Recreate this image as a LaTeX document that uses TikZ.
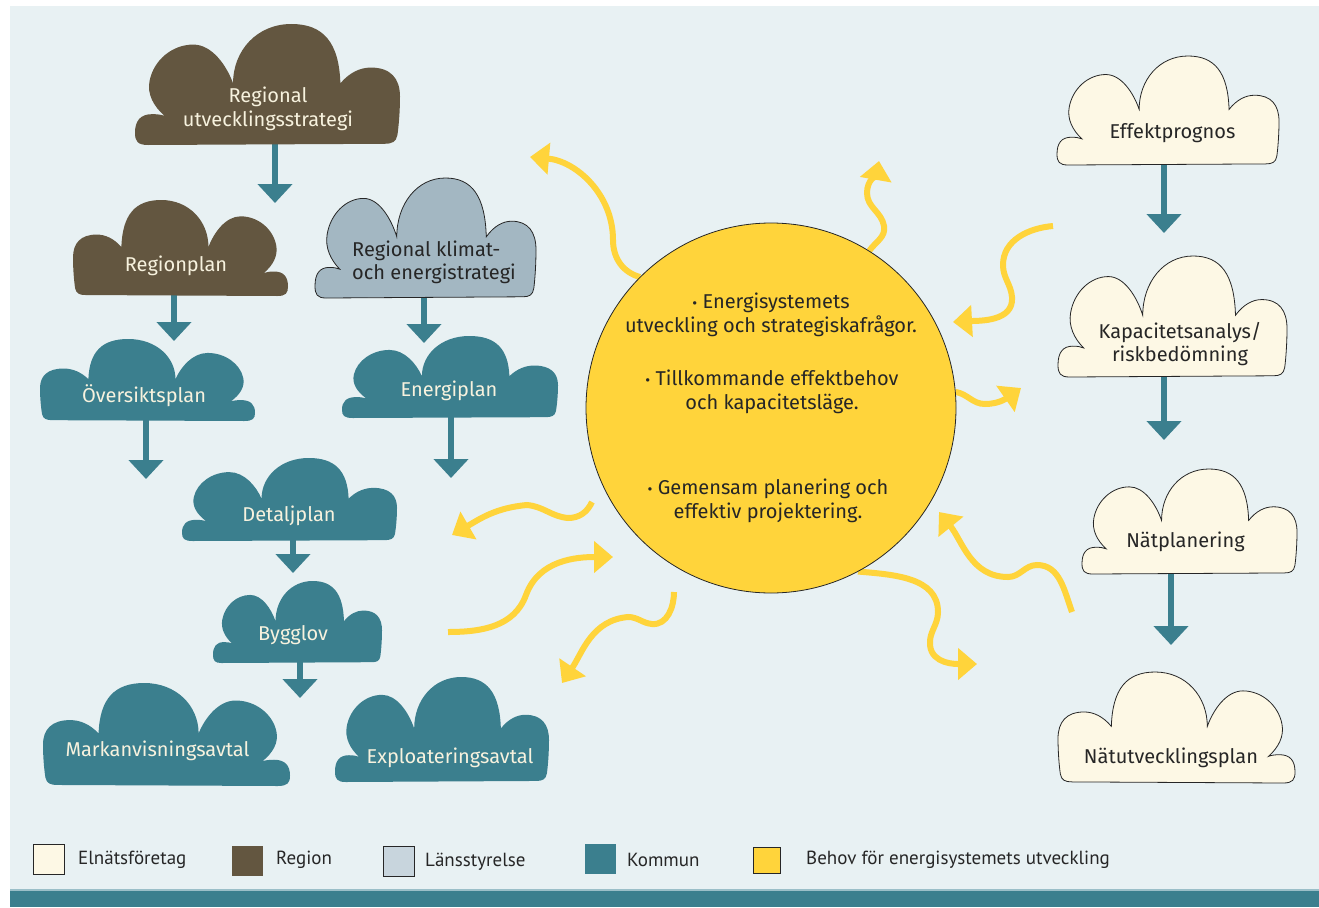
\documentclass[tikz,border=0pt]{standalone}
\usepackage{fontspec}
\setmainfont{Fira Sans}
\newfontfamily\legfont{PT Sans}
\usetikzlibrary{arrows.meta}
\definecolor{bgc}{HTML}{E8F1F3}
\definecolor{brn}{HTML}{635640}
\definecolor{tea}{HTML}{3B7F8E}
\definecolor{sla}{HTML}{A3B7C2}
\definecolor{slal}{HTML}{C8D5DD}
\definecolor{crm}{HTML}{FDF8E5}
\definecolor{yel}{HTML}{FFD43B}
\definecolor{dk}{HTML}{262626}
\definecolor{ltx}{HTML}{F7F2DE}
\definecolor{barl}{HTML}{9BBFC8}
\tikzset{
  cloud/.pic={\path[pic actions]
    (0.05,1) .. controls (0.01,1) and (0,0.97) .. (0,0.9)
    .. controls (0,0.80) and (0.02,0.745) .. (0.065,0.745)
    .. controls (0.085,0.745) and (0.10,0.75) .. (0.112,0.76)
    .. controls (0.07,0.68) and (0.045,0.58) .. (0.055,0.47)
    .. controls (0.07,0.30) and (0.14,0.17) .. (0.22,0.17)
    .. controls (0.29,0.17) and (0.345,0.34) .. (0.37,0.49)
    .. controls (0.37,0.22) and (0.46,0.0) .. (0.59,0.0)
    .. controls (0.71,0.0) and (0.77,0.15) .. (0.775,0.49)
    .. controls (0.81,0.40) and (0.85,0.36) .. (0.89,0.36)
    .. controls (0.965,0.36) and (1.0,0.45) .. (1.0,0.60)
    .. controls (1.0,0.72) and (0.995,0.85) .. (0.99,0.92)
    .. controls (0.985,0.975) and (0.97,0.99) .. (0.94,0.99)
    -- cycle;},
  bx/.style={inner sep=0, outer sep=0},
  ltxt/.style={text=ltx, font=\fontsize{20}{23.5}\selectfont, align=center, inner sep=0},
  dtxt/.style={text=dk, font=\fontsize{20}{23.5}\selectfont, align=center, inner sep=0},
  stxt/.style={text=dk, font=\fontsize{20}{23.5}\selectfont, align=center, inner sep=0},
  legtxt/.style={text=dk, font=\legfont\fontsize{19}{22}\selectfont, anchor=west, inner sep=0},
  lbox/.style={inner sep=0, minimum width=31pt, minimum height=30pt},
  tarrow/.style={draw=tea, line width=6pt, -{Triangle[width=34pt,length=19pt]}},
  yarrow/.style={draw=yel, line width=6pt, -{Triangle[width=31pt,length=19pt]}},
  outl/.style={draw=dk, line width=0.8pt},
}
\newcommand{\bul}{{\fontsize{15}{15}\selectfont\textbullet}\ }
\begin{document}
\begin{tikzpicture}[x=1pt,y=1pt]
\useasboundingbox (0,0) rectangle (1319,-907);
\fill[white] (0,0) rectangle (1319,-907);
\fill[bgc] (10,-6) rectangle (1319,-891);
\fill[barl] (10,-889) rectangle (1319,-891);
\fill[tea] (10,-891) rectangle (1319,-907);

% cloud bounding nodes
\node[bx, minimum width=265pt, minimum height=121pt] (rus) at (267.5,-84.5) {};
\node[bx, minimum width=215pt, minimum height=96pt] (rpl) at (180.5,-248) {};
\node[bx, minimum width=221pt, minimum height=120pt] (rks) at (425.5,-238) {};
\node[bx, minimum width=215pt, minimum height=82pt] (osp) at (147.5,-380) {};
\node[bx, minimum width=216pt, minimum height=82pt] (enp) at (450,-377) {};
\node[bx, minimum width=215pt, minimum height=83pt] (dtp) at (289.5,-499.5) {};
\node[bx, minimum width=169pt, minimum height=82pt] (byg) at (297.5,-622) {};
\node[bx, minimum width=247pt, minimum height=103pt] (mka) at (166.5,-734.5) {};
\node[bx, minimum width=214pt, minimum height=105pt] (exa) at (442,-729.5) {};
\node[bx, minimum width=222pt, minimum height=109pt] (efp) at (1168,-110.5) {};
\node[bx, minimum width=229pt, minimum height=121pt] (kap) at (1172.5,-316.5) {};
\node[bx, minimum width=215pt, minimum height=105pt] (ntp) at (1189.5,-521.5) {};
\node[bx, minimum width=237pt, minimum height=111pt] (nup) at (1176.5,-727.5) {};

% teal arrows
\coordinate (a1) at (275,-203);
\coordinate (a2) at (174,-341);
\coordinate (a3) at (424,-343);
\coordinate (a4) at (146,-479);
\coordinate (a5) at (451,-478);
\coordinate (a6) at (293,-573);
\coordinate (a7) at (300,-698);
\coordinate (a8) at (1164,-233);
\coordinate (a9) at (1164,-440);
\coordinate (a10) at (1171,-645);
\draw[tarrow] ([yshift=4pt]rus.south -| a1) -- (a1);
\draw[tarrow] ([yshift=4pt]rpl.south -| a2) -- (a2);
\draw[tarrow] ([yshift=4pt]rks.south -| a3) -- (a3);
\draw[tarrow] ([yshift=4pt]osp.south -| a4) -- (a4);
\draw[tarrow] ([yshift=4pt]enp.south -| a5) -- (a5);
\draw[tarrow] ([yshift=4pt]dtp.south -| a6) -- (a6);
\draw[tarrow] ([yshift=4pt]byg.south -| a7) -- (a7);
\draw[tarrow] ([yshift=4pt]efp.south -| a8) -- (a8);
\draw[tarrow] ([yshift=4pt]kap.south -| a9) -- (a9);
\draw[tarrow] ([yshift=4pt]ntp.south -| a10) -- (a10);

% clouds
\pic[fill=brn, x=265pt, y=-121pt] at (rus.north west) {cloud};
\pic[fill=brn, x=-215pt, y=-96pt] at (rpl.north east) {cloud};
\pic[fill=sla, outl, x=221pt, y=-120pt] at (rks.north west) {cloud};
\pic[fill=tea, x=-215pt, y=-82pt] at (osp.north east) {cloud};
\pic[fill=tea, x=216pt, y=-82pt] at (enp.north west) {cloud};
\pic[fill=tea, x=215pt, y=-83pt] at (dtp.north west) {cloud};
\pic[fill=tea, x=169pt, y=-82pt] at (byg.north west) {cloud};
\pic[fill=tea, x=-247pt, y=-103pt] at (mka.north east) {cloud};
\pic[fill=tea, x=214pt, y=-105pt] at (exa.north west) {cloud};
\pic[fill=crm, outl, x=222pt, y=-109pt] at (efp.north west) {cloud};
\pic[fill=crm, outl, x=229pt, y=-121pt] at (kap.north west) {cloud};
\pic[fill=crm, outl, x=215pt, y=-105pt] at (ntp.north west) {cloud};
\pic[fill=crm, outl, x=-237pt, y=-111pt] at (nup.north east) {cloud};

% cloud texts
\node[ltxt] (rus-t) at (268,-109) {Regional\\utvecklingsstrategi};
\node[ltxt] (rpl-t) at (176,-266) {Regionplan};
\node[dtxt, align=left] (rks-t) at (434,-262.5) {Regional klimat-\\och energistrategi};
\node[ltxt] (osp-t) at (144,-396) {Översiktsplan};
\node[ltxt] (enp-t) at (449,-391) {Energiplan};
\node[ltxt] (dtp-t) at (289,-516) {Detaljplan};
\node[ltxt] (byg-t) at (293,-635) {Bygglov};
\node[ltxt] (mka-t) at (157.5,-751) {Markanvisningsavtal};
\node[ltxt] (exa-t) at (450,-758) {Exploateringsavtal};
\node[dtxt] (efp-t) at (1172.5,-133) {Effektprognos};
\node[dtxt] (kap-t) at (1180,-344) {Kapacitetsanalys/\\riskbedömning};
\node[dtxt] (ntp-t) at (1185.5,-542) {Nätplanering};
\node[dtxt] (nup-t) at (1171,-758) {Nätutvecklingsplan};

% sun
\node[circle, inner sep=0, minimum size=370pt] (sun) at (771,-408) {};
\coordinate (y1e) at (530,-157);
\coordinate (y2e) at (879,-161);
\coordinate (y3s) at (1053,-226);
\coordinate (y3e) at (953,-322);
\coordinate (y4e) at (1021,-388);
\coordinate (y5s) at (592,-502);
\coordinate (y5e) at (452,-535);
\coordinate (y6s) at (448,-632);
\coordinate (y6e) at (613,-557);
\coordinate (y7s) at (674,-592);
\coordinate (y7e) at (562,-683);
\coordinate (y8e) at (977,-664);
\coordinate (y9s) at (1072,-612);
\coordinate (y9e) at (939,-512);
\draw[yarrow] (sun.135) to[out=165,in=270] (613,-240) to[out=90,in=-5] (y1e);
\draw[yarrow] (sun.58) to[out=55,in=-80] (884,-226) to[out=100,in=-90] (867,-193) to[out=90,in=-100] (y2e);
\draw[yarrow] (sun.5) to[out=-10,in=180] (985,-404) to[out=0,in=215] (y4e);
\draw[yarrow] (sun.-62) to[out=-5,in=90] (938,-612) to[out=-90,in=95] (930,-645) to[out=-85,in=180] (y8e);
\path[fill=yel, outl] (sun.center) circle (185pt);
\draw[yarrow] (y3s) to[out=185,in=90] (1003,-265) to[out=-90,in=95] (1012,-297) to[out=-85,in=3] (y3e);
\draw[yarrow] (y5s) to[out=-115,in=0] (568,-518) to[out=175,in=-5] (527,-505) to[out=185,in=30] (y5e);
\draw[yarrow] (y6s) to[out=0,in=-110] (526,-595) to[out=70,in=180] (y6e);
\draw[yarrow] (y7s) to[out=-90,in=-5] (652,-624) to[out=175,in=0] (628,-617) to[out=185,in=56] (y7e);
\draw[yarrow] (y9s) to[out=110,in=0] (1037,-565) to[out=180,in=0] (1008,-577) to[out=180,in=-51] (y9e);

\node[stxt] (s1) at (771,-315) {\bul Energisystemets\\utveckling och strategiskafrågor.};
\node[stxt] (s2) at (772,-392) {\bul Tillkommande effektbehov\\och kapacitetsläge.};
\node[stxt] (s3) at (768,-501) {\bul Gemensam planering och\\effektiv projektering.};

% legend
\node[lbox, fill=crm, draw=dk, line width=0.7pt] (l1) at (49,-859) {};
\node[legtxt] (l1t) at (78,-860) {Elnätsföretag};
\node[lbox, fill=brn] (l2) at (247.5,-861) {};
\node[legtxt] (l2t) at (276,-860) {Region};
\node[lbox, fill=slal, draw=dk, line width=0.7pt] (l3) at (399,-861) {};
\node[legtxt] (l3t) at (425,-862) {Länsstyrelse};
\node[lbox, fill=tea] (l4) at (600,-859) {};
\node[legtxt] (l4t) at (627,-860) {Kommun};
\node[lbox, fill=yel, draw=dk, line width=0.7pt, minimum width=27pt, minimum height=26pt] (l5) at (766.5,-860.3) {};
\node[legtxt] (l5t) at (806,-860) {Behov för energisystemets utveckling};
\end{tikzpicture}
\end{document}
